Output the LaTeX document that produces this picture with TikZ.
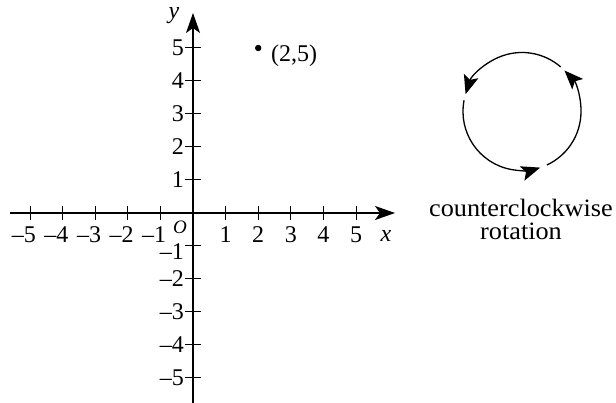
\documentclass[tikz,border=0pt]{standalone}
\usepackage{fontspec}
\setmainfont{Liberation Serif}
\usetikzlibrary{arrows.meta,calc}
\begin{document}
\begin{tikzpicture}[x=1pt,y=1pt,
  axis/.style={line width=1.3pt,-{Stealth[length=20pt,width=14pt,inset=5pt]}},
  tickline/.style={line width=1pt},
  rot/.style={line width=1.3pt,-{Stealth[length=19pt,width=15pt,inset=4pt]}},
  num/.style={font=\fontsize{24}{24}\selectfont,inner sep=0pt},
  lbl/.style={font=\fontsize{25}{25}\selectfont,inner sep=0pt}]
\useasboundingbox (0,0) rectangle (616,403);
\coordinate (O) at (193,190);
\coordinate (xs) at (10,190);
\coordinate (xe) at (395,190);
\coordinate (ys) at (193,0);
\coordinate (ye) at (193,390);
\draw[axis] (xs) -- (xe);
\draw[axis] (ys) -- (ye);
% ticks
\foreach \i in {-5,-4,-3,-2,-1,1,2,3,4,5}{
  \draw[tickline] ($(O)+(\i*32.6,-7)$) -- ($(O)+(\i*32.6,7)$);
  \draw[tickline] ($(O)+(-8,\i*33)$) -- ($(O)+(8,\i*33)$);
}
% x labels
\foreach \i in {1,2,3,4,5}{
  \node[num,anchor=base] (xl\i) at (193+\i*32.6,160) {\i};
}
\foreach \i/\l in {-5/5,-4/4,-3/3,-2/2,-1/1}{
  \node[num,anchor=base east] (xn\l) at (193+\i*32.6+6,160) {\textendash\l};
}
% y labels
\foreach \i in {1,2,3,4,5}{
  \node[num,anchor=east] (yl\i) at (184,190+\i*33) {\i};
}
\foreach \i/\l in {-5/5,-4/4,-3/3,-2/2}{
  \node[num,anchor=east] (yn\l) at (184,190+\i*33) {\textendash\l};
}
\node[num,anchor=east] (yn1) at (184,151) {\textendash1};
\node[font=\fontsize{19}{19}\selectfont\itshape,inner sep=0pt] (olab) at (180,176) {O};
\node[num,font=\fontsize{24}{24}\selectfont\itshape] (xlab) at (386,167) {x};
\node[num,font=\fontsize{24}{24}\selectfont\itshape] (ylab) at (174,387) {y};
% point
\fill (258.2,355) circle (3.2pt) coordinate (P);
\node[num,anchor=west] (plab) at (271,347) {(2,5)};
% rotation circle
\coordinate (C) at (522,291.5);
\draw[rot] ($(C)+(49:59pt)$) arc[start angle=49,end angle=163,radius=59pt];
\draw[rot] ($(C)+(169:59pt)$) arc[start angle=169,end angle=288,radius=59pt];
\draw[rot] ($(C)+(295:59pt)$) arc[start angle=295,end angle=404,radius=59pt];
\node[lbl,anchor=base] (t1) at (521,186) {\scalebox{1.05}[1]{counterclockwise}};
\node[lbl,anchor=base] (t2) at (521,163) {\scalebox{1.05}[1]{rotation}};
\end{tikzpicture}
\end{document}
